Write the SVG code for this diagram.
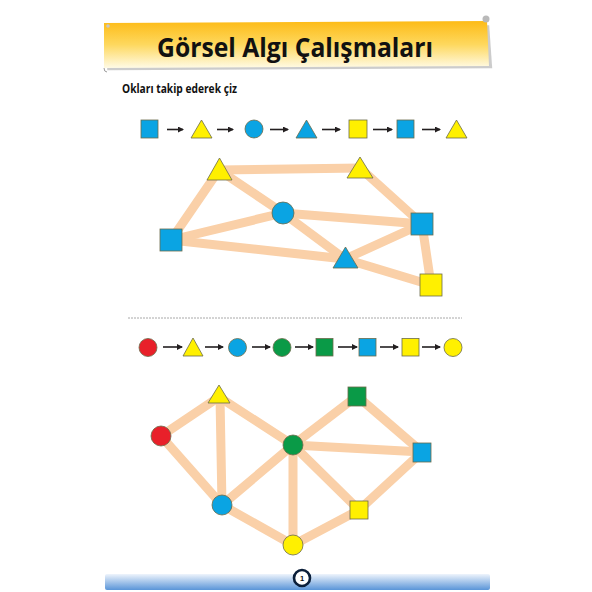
<svg xmlns="http://www.w3.org/2000/svg" width="592" height="592" viewBox="0 0 592 592">
<defs>
<linearGradient id="ban" x1="0" y1="0" x2="0" y2="1">
<stop offset="0" stop-color="#fdbb16"/>
<stop offset="0.5" stop-color="#fed85e"/>
<stop offset="1" stop-color="#fffbe6"/>
</linearGradient>
<linearGradient id="foot" x1="0" y1="0" x2="0" y2="1">
<stop offset="0" stop-color="#eef4fc"/>
<stop offset="1" stop-color="#5a95d8"/>
</linearGradient>
<marker id="ah" markerWidth="6" markerHeight="6" refX="5" refY="3" orient="auto" markerUnits="userSpaceOnUse">
<path d="M0,0 L6,3 L0,6 Z" fill="#231f20"/>
</marker>
</defs>
<style>
.e{stroke:#fad0a8;stroke-width:9;stroke-linecap:round;fill:none}
.ar{stroke:#231f20;stroke-width:1.6;marker-end:url(#ah)}
.s{stroke:#6b6b4a;stroke-width:0.8}
.bl{fill:#0aa4e3}
.ye{fill:#fff000}
.gr{fill:#0a9a47}
.rd{fill:#e8202a}
.t{font-family:"Open Sans","Liberation Sans",sans-serif;font-weight:bold;fill:#111}
</style>
<rect width="592" height="592" fill="#ffffff"/>
<!-- banner -->
<g id="banner">
<path d="M106,26 L488,24 L491,67 L106,69 Z" fill="#9a9a9a" opacity="0.5" transform="translate(1.2,1.2)"/>
<path d="M104,23 L487,21 L489,66 L104,68 Z" fill="url(#ban)"/>
<circle cx="486" cy="19" r="3.5" fill="#b9b9b9"/>
<circle cx="108" cy="26" r="1.8" fill="#c8c8c8"/>
<path d="M104,68 Q104,72 107,72" stroke="#9a9a9a" stroke-width="1" fill="none"/>
<text class="t" x="295" y="57" font-size="27" text-anchor="middle" textLength="276" lengthAdjust="spacingAndGlyphs">Görsel Algı Çalışmaları</text>
</g>
<text class="t" x="122" y="93" font-size="11.5" textLength="115" lengthAdjust="spacingAndGlyphs">Okları takip ederek çiz</text>
<!-- top sequence -->
<g id="seq1">
<rect class="bl s" x="141" y="120" width="17" height="18"/>
<line class="ar" x1="167" y1="129.5" x2="183" y2="129.5"/>
<polygon class="ye s" points="201.5,120 212,138 191,138"/>
<line class="ar" x1="217" y1="129.5" x2="233" y2="129.5"/>
<circle class="bl s" cx="254" cy="129" r="9"/>
<line class="ar" x1="270" y1="129.5" x2="288" y2="129.5"/>
<polygon class="bl s" points="306.5,120 317,138 296,138"/>
<line class="ar" x1="322" y1="129.5" x2="340" y2="129.5"/>
<rect class="ye s" x="349" y="120" width="18" height="18"/>
<line class="ar" x1="373" y1="129.5" x2="392" y2="129.5"/>
<rect class="bl s" x="397" y="120" width="17" height="18"/>
<line class="ar" x1="422" y1="129.5" x2="440" y2="129.5"/>
<polygon class="ye s" points="456.5,120 467,138 446,138"/>
</g>
<!-- graph 1 connectors -->
<g id="edges1">
<line class="e" x1="219" y1="170" x2="360" y2="168"/>
<line class="e" x1="219" y1="170" x2="171" y2="240"/>
<line class="e" x1="219" y1="170" x2="283" y2="213"/>
<line class="e" x1="171" y1="240" x2="283" y2="213"/>
<line class="e" x1="171" y1="240" x2="345" y2="259"/>
<line class="e" x1="283" y1="213" x2="422" y2="224"/>
<line class="e" x1="283" y1="213" x2="345" y2="259"/>
<line class="e" x1="360" y1="168" x2="422" y2="224"/>
<line class="e" x1="422" y1="224" x2="345" y2="259"/>
<line class="e" x1="422" y1="224" x2="431" y2="285"/>
<line class="e" x1="345" y1="259" x2="431" y2="285"/>
</g>
<g id="g1A"><polygon class="ye s" points="219.5,158 232,180 207,180"/></g>
<g id="g1B"><polygon class="ye s" points="360,157 373,178 347,178"/></g>
<g id="g1C"><circle class="bl s" cx="283" cy="213" r="11"/></g>
<g id="g1D"><rect class="bl s" x="160" y="229" width="22" height="22"/></g>
<g id="g1E"><rect class="bl s" x="411" y="213" width="22" height="22"/></g>
<g id="g1F"><polygon class="bl s" points="345.5,247 358,268 333,268"/></g>
<g id="g1G"><rect class="ye s" x="420" y="274" width="22" height="22"/></g>
<!-- divider -->
<line x1="128" y1="318" x2="462" y2="318" stroke="#a8a8a8" stroke-width="1" stroke-dasharray="2,1"/>
<!-- bottom sequence -->
<g id="seq2">
<circle class="rd s" cx="148" cy="347.5" r="9"/>
<line class="ar" x1="163" y1="347" x2="182" y2="347"/>
<polygon class="ye s" points="193,338 203,356 183,356"/>
<line class="ar" x1="205" y1="347" x2="223" y2="347"/>
<circle class="bl s" cx="237.5" cy="347.5" r="9"/>
<line class="ar" x1="252" y1="347" x2="270" y2="347"/>
<circle class="gr s" cx="282" cy="347.5" r="9"/>
<line class="ar" x1="295" y1="347" x2="313" y2="347"/>
<rect class="gr s" x="316" y="338.5" width="17" height="17.5"/>
<line class="ar" x1="338" y1="347" x2="357" y2="347"/>
<rect class="bl s" x="359" y="338.5" width="17" height="17.5"/>
<line class="ar" x1="380" y1="347" x2="398" y2="347"/>
<rect class="ye s" x="402" y="338.5" width="17" height="17.5"/>
<line class="ar" x1="422" y1="347" x2="440" y2="347"/>
<circle class="ye s" cx="453" cy="347.5" r="9"/>
</g>
<!-- graph 2 connectors -->
<g id="edges2">
<line class="e" x1="161" y1="436" x2="219" y2="397"/>
<line class="e" x1="161" y1="436" x2="222" y2="505"/>
<line class="e" x1="220" y1="397" x2="222" y2="505"/>
<line class="e" x1="219" y1="397" x2="293" y2="445"/>
<line class="e" x1="222" y1="505" x2="293" y2="445"/>
<line class="e" x1="222" y1="505" x2="293" y2="545"/>
<line class="e" x1="293" y1="445" x2="293" y2="545"/>
<line class="e" x1="293" y1="445" x2="357" y2="396"/>
<line class="e" x1="293" y1="445" x2="422" y2="452"/>
<line class="e" x1="293" y1="445" x2="359" y2="510"/>
<line class="e" x1="357" y1="396" x2="422" y2="452"/>
<line class="e" x1="422" y1="452" x2="359" y2="510"/>
<line class="e" x1="359" y1="510" x2="293" y2="545"/>
</g>
<g id="g2T"><polygon class="ye s" points="219,385 230,403 208,403"/></g>
<g id="g2R"><circle class="rd s" cx="161" cy="436" r="10"/></g>
<g id="g2G"><circle class="gr s" cx="293" cy="445" r="10"/></g>
<g id="g2S"><rect class="gr s" x="348" y="387" width="18" height="19"/></g>
<g id="g2B"><rect class="bl s" x="413" y="443" width="18" height="19"/></g>
<g id="g2C"><circle class="bl s" cx="222" cy="505" r="10"/></g>
<g id="g2Y"><rect class="ye s" x="350" y="501" width="18" height="18"/></g>
<g id="g2O"><circle class="ye s" cx="293" cy="545" r="10"/></g>
<!-- footer -->
<g id="footer">
<rect x="105" y="574" width="385" height="16" rx="2" fill="url(#foot)"/>
<circle cx="302" cy="578" r="8" fill="#ffffff" stroke="#0b1f3a" stroke-width="2.6"/>
<text x="302" y="581" font-size="7.5" text-anchor="middle" font-family="'Liberation Sans',sans-serif" font-weight="bold" fill="#111">1</text>
</g>
</svg>
